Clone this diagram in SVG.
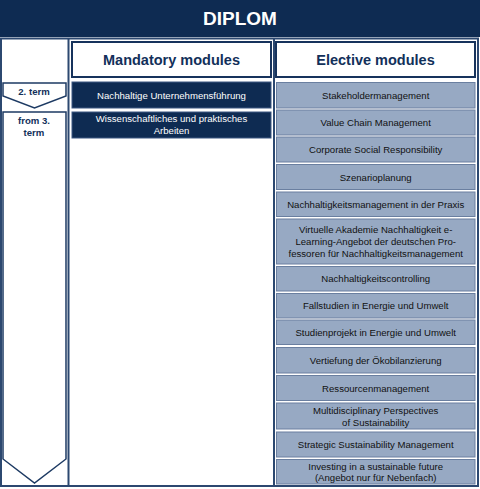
<svg xmlns="http://www.w3.org/2000/svg" width="480" height="489" viewBox="0 0 480 489">
<style>
text{font-family:"Liberation Sans",Arial,sans-serif;text-anchor:middle}
.frame{fill:none;stroke:#2c4870;stroke-width:2}
.hdr rect{fill:#fff;stroke:#17335c;stroke-width:2}
.hdr text{font-size:14.5px;font-weight:bold;fill:#12305a}
.man rect{fill:#0e2b52;stroke:#3d5882;stroke-width:1}
.man text{font-size:9.6px;fill:#fff}
.el rect{fill:#97a9c3;stroke:#6a7fa0;stroke-width:1}
.el text{font-size:9.6px;fill:#111}
.term polygon{fill:#fff;stroke:#1d3a63;stroke-width:1.5}
.term text{font-size:9.6px;font-weight:bold;fill:#12305a}
</style>
<rect x="0" y="0" width="480" height="489" fill="#fff"/>
<g id="title">
<rect x="0" y="0" width="480" height="37" fill="#0e2b52"/>
<text x="240" y="25" style="font-size:19px;font-weight:bold;fill:#fff">DIPLOM</text>
</g>
<g id="frame">
<rect class="frame" x="1" y="38.5" width="477" height="447.5"/>
<line class="frame" x1="68.5" y1="38" x2="68.5" y2="486"/>
<line class="frame" x1="274" y1="38" x2="274" y2="486"/>
</g>
<g id="term2" class="term">
<polygon points="3,83 66,83 66,96 34.5,108 3,96"/>
<text x="34" y="94.5">2. term</text>
</g>
<g id="term3" class="term">
<polygon points="3,112 66,112 66,459 34.5,483 3,459"/>
<text x="34" y="123.5">from 3.</text>
<text x="34" y="135.5">term</text>
</g>
<g id="mandatory-header" class="hdr">
<rect x="72" y="42" width="199" height="35"/>
<text x="171.5" y="65">Mandatory modules</text>
</g>
<g id="elective-header" class="hdr">
<rect x="276" y="42" width="199" height="35"/>
<text x="375.5" y="65">Elective modules</text>
</g>
<g id="m1" class="man"><rect x="72" y="82" width="199" height="26"/><text x="171.5" y="98.5">Nachhaltige Unternehmensführung</text></g>
<g id="m2" class="man"><rect x="72" y="112" width="199" height="26"/><text x="171.5" y="122">Wissenschaftliches und praktisches</text><text x="171.5" y="134">Arbeiten</text></g>
<g id="e1" class="el"><rect x="276.5" y="82.5" width="198.5" height="25.5"/><text x="375.7" y="98.5">Stakeholdermanagement</text></g>
<g id="e2" class="el"><rect x="276.5" y="110" width="198.5" height="25"/><text x="375.7" y="126">Value Chain Management</text></g>
<g id="e3" class="el"><rect x="276.5" y="137" width="198.5" height="25"/><text x="375.7" y="153">Corporate Social Responsibility</text></g>
<g id="e4" class="el"><rect x="276.5" y="164.5" width="198.5" height="25"/><text x="375.7" y="180.5">Szenarioplanung</text></g>
<g id="e5" class="el"><rect x="276.5" y="192" width="198.5" height="24.5"/><text x="375.7" y="207.5">Nachhaltigkeitsmanagement in der Praxis</text></g>
<g id="e6" class="el"><rect x="276.5" y="219" width="198.5" height="45"/><text x="375.7" y="233.3">Virtuelle Akademie Nachhaltigkeit e-</text><text x="375.7" y="245">Learning-Angebot der deutschen Pro-</text><text x="375.7" y="256.7">fessoren für Nachhaltigkeitsmanagement</text></g>
<g id="e7" class="el"><rect x="276.5" y="266.5" width="198.5" height="24.5"/><text x="375.7" y="282">Nachhaltigkeitscontrolling</text></g>
<g id="e8" class="el"><rect x="276.5" y="293.5" width="198.5" height="24.5"/><text x="375.7" y="309">Fallstudien in Energie und Umwelt</text></g>
<g id="e9" class="el"><rect x="276.5" y="320" width="198.5" height="24.5"/><text x="375.7" y="335.5">Studienprojekt in Energie und Umwelt</text></g>
<g id="e10" class="el"><rect x="276.5" y="347.5" width="198.5" height="25.5"/><text x="375.7" y="363.5">Vertiefung der Ökobilanzierung</text></g>
<g id="e11" class="el"><rect x="276.5" y="375.5" width="198.5" height="25"/><text x="375.7" y="391.5">Ressourcenmanagement</text></g>
<g id="e12" class="el"><rect x="276.5" y="403" width="198.5" height="26"/><text x="375.7" y="414">Multidisciplinary Perspectives</text><text x="375.7" y="425.5">of Sustainability</text></g>
<g id="e13" class="el"><rect x="276.5" y="432" width="198.5" height="25"/><text x="375.7" y="448">Strategic Sustainability Management</text></g>
<g id="e14" class="el"><rect x="276.5" y="459.5" width="198.5" height="24.5"/><text x="375.7" y="469.5">Investing in a sustainable future</text><text x="375.7" y="481">(Angebot nur für Nebenfach)</text></g>
</svg>
